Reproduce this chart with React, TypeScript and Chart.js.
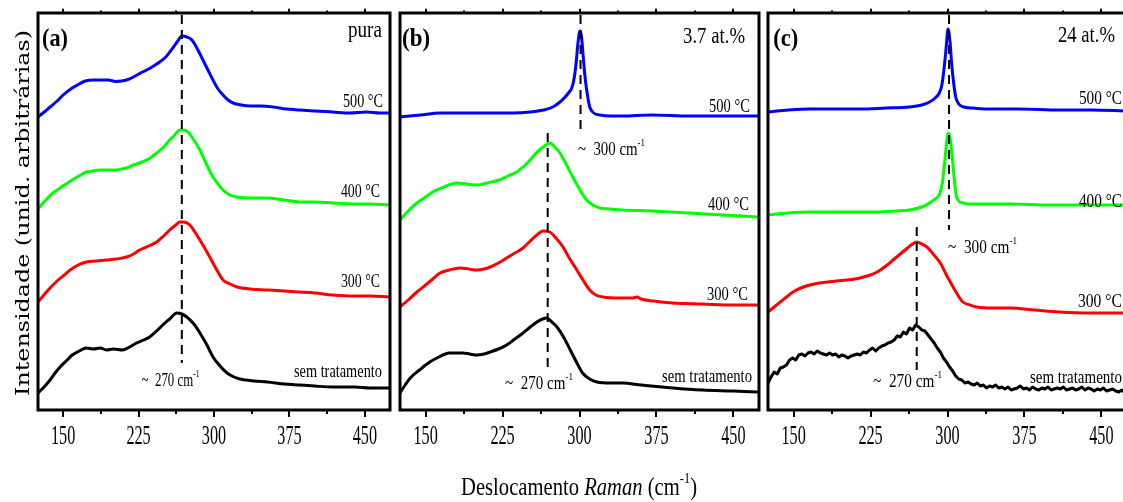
import { useEffect, useRef } from "react";
import { Chart, registerables } from "chart.js";

Chart.register(...registerables);

// Raman shift axis (cm-1)
const shiftMin = 125;
const shiftMax = 475;
const shiftTicks = [150, 225, 300, 375, 450];
const minorShiftTicks = [187.5, 262.5, 337.5, 412.5];

// Intensity axis (arbitrary units, spectra stacked with offsets)
const intensityMin = 0;
const intensityMax = 397;

type Pt = [number, number];

// ---------- (a) pura ----------
const pureAsGrown: Pt[] = [
  [125, 17], [131, 23], [137, 30], [142, 37], [147, 43], [153, 49], [159, 55], [166, 59], [173, 62], [180, 61],
  [187, 62], [193, 60], [200, 61], [209, 60], [216, 63], [223, 67], [230, 70], [236, 73], [243, 79], [249, 85],
  [256, 91], [263, 97], [268, 96], [273, 93], [280, 86], [286, 77], [293, 65], [299, 53], [306, 44], [313, 37],
  [320, 33], [326, 31], [340, 29], [353, 28], [370, 26], [385, 25], [400, 24], [418, 23], [440, 23], [455, 22], [474, 22],
];
const pure300: Pt[] = [
  [125, 108], [130, 114], [137, 122], [145, 130], [150, 134], [157, 140], [165, 145], [173, 148], [183, 149], [193, 150],
  [203, 151], [213, 153], [220, 156], [226, 160], [235, 164], [243, 168], [250, 174], [256, 180], [262, 185], [266, 188],
  [270, 188], [276, 185], [281, 178], [286, 170], [293, 158], [299, 147], [304, 138], [309, 130], [316, 126], [323, 123],
  [336, 121], [353, 120], [370, 119], [385, 118], [400, 117], [418, 115], [440, 114], [455, 114], [474, 113],
];
const pure400: Pt[] = [
  [125, 201], [132, 209], [140, 217], [150, 224], [159, 230], [166, 234], [173, 238], [180, 239], [187, 240], [195, 240],
  [203, 240], [208, 241], [213, 242], [220, 245], [226, 247], [235, 251], [243, 257], [250, 263], [256, 270], [261, 275],
  [266, 280], [270, 280], [274, 278], [280, 270], [286, 260], [292, 247], [299, 233], [304, 226], [309, 220], [316, 215],
  [323, 213], [335, 212], [353, 212], [370, 210], [385, 208], [400, 208], [418, 207], [440, 206], [455, 206], [474, 205],
];
const pure500: Pt[] = [
  [125, 293], [130, 297], [137, 303], [144, 309], [150, 315], [159, 322], [166, 326], [172, 329], [180, 330], [187, 330],
  [195, 330], [202, 328.5], [208, 329], [213, 330], [220, 333], [227, 337], [233, 340], [240, 344], [246, 348], [252, 353],
  [259, 362], [264, 369], [268, 374], [273, 373], [278, 370], [283, 362], [289, 350], [294, 340], [299, 330], [304, 321],
  [309, 315], [314, 310], [319, 307], [327, 305], [336, 304], [347, 304], [359, 303], [372, 301], [385, 300], [400, 299],
  [418, 298], [435, 297], [452, 298], [465, 297], [474, 297],
];
const pureMarkers: Pt[][] = [[[268, 395], [268, 47]]];

// ---------- (b) 3.7 at.% ----------
const lowAsGrown: Pt[] = [
  [125, 17], [130, 25], [135, 32], [144, 40], [154, 48], [163, 53], [173, 57], [180, 57], [186, 57], [193, 56],
  [200, 55], [207, 56], [213, 58], [221, 61], [229, 65], [237, 71], [245, 77], [252, 83], [258.5, 88], [264, 91],
  [268, 92], [273, 88], [278, 83], [285, 72], [291, 60], [297, 48], [303, 37], [310, 31], [317, 28], [330, 27],
  [342, 27], [360, 25], [391, 22], [420, 20], [450, 19], [474, 18],
];
const low300: Pt[] = [
  [125, 103], [133, 110], [141.5, 118], [150, 125], [157, 131], [164, 137], [173, 140], [183.5, 142], [192, 141], [200, 140],
  [207, 141], [213, 143], [221, 147], [229, 152], [237, 157], [245, 162], [252, 169], [258.5, 175], [264.5, 179], [271, 178],
  [277, 172], [284, 163], [290, 152], [297.5, 140], [304, 129], [310, 120], [316, 115], [323, 113], [340, 112], [352, 112],
  [356, 113], [360, 111], [372, 109], [391, 107], [420, 106], [450, 105], [474, 105],
];
const low400: Pt[] = [
  [125, 190], [133, 199], [141.5, 207], [150, 213], [157, 218], [168, 223], [180.5, 227], [190, 226], [200, 225], [210, 227],
  [222, 230], [230, 234], [239, 238], [245, 243], [252, 250], [256, 255], [261, 260], [266, 264], [271, 267], [276, 263],
  [281, 257], [287, 246], [293.5, 233], [300, 221], [307, 210], [313, 205], [320, 202], [330, 201], [342, 200], [370, 199],
  [407, 197], [440, 195], [474, 193],
];
const low500: Pt[] = [
  [125, 293], [145, 295], [164, 297], [190, 297], [213, 297], [235, 297], [252, 298], [265, 300], [274, 303], [281, 308],
  [286, 313], [290, 318], [292.5, 322], [295, 333], [297, 350], [298.5, 367], [300.5, 379], [302, 373], [303.5, 355], [305, 337],
  [307, 320], [310, 303], [314, 297], [320, 295], [330, 294], [342, 294], [370, 295], [407, 294], [440, 294], [474, 294],
];
const lowMarkers: Pt[][] = [
  [[301, 395], [301, 280]],
  [[269, 277], [269, 40]],
];

// ---------- (c) 24 at.% ----------
const highAsGrown: Pt[] = [
  [125, 27], [128, 33], [131, 38], [134, 36], [137, 42], [140, 43], [143, 45], [146, 50], [149, 52], [152, 50],
  [155, 55], [158, 56], [161, 54], [164, 57], [167, 58], [170, 56], [173, 59], [176, 57], [179, 56], [182, 55],
  [185, 57], [188, 55], [191, 56], [194, 53], [197, 55], [200, 54], [203, 52], [206, 54], [209, 55], [212, 56],
  [215, 55], [218, 58], [221, 57], [224, 60], [227, 62], [230, 59], [233, 62], [236, 64], [239, 65], [242, 67],
  [245, 68], [248, 70], [251, 74], [254, 73], [257, 78], [260, 76], [263, 82], [266, 80], [269, 85], [272, 83],
  [275, 80], [278, 79], [281, 75], [284, 71], [287, 67], [290, 62], [293, 58], [296, 52], [299, 48], [302, 43],
  [305, 39], [308, 34], [311, 31], [314, 30], [317, 27], [320, 28], [323, 26], [326, 25], [329, 27], [332, 24],
  [335, 25], [338, 22], [341, 24], [344, 23], [347, 25], [350, 22], [353, 23], [356, 21], [359, 23], [362, 20],
  [365, 21], [368, 22], [371, 24], [374, 21], [377, 22], [380, 20], [383, 23], [386, 21], [389, 20], [392, 22],
  [395, 21], [398, 23], [401, 20], [404, 21], [407, 22], [410, 21], [413, 23], [416, 20], [419, 21], [422, 22],
  [425, 20], [428, 21], [431, 23], [434, 20], [437, 22], [440, 21], [443, 19], [446, 21], [449, 20], [452, 22],
  [455, 19], [458, 20], [461, 21], [464, 19], [467, 18], [470, 20], [473, 17], [475, 18],
];
const high300: Pt[] = [
  [125, 98], [131, 103], [137, 108], [143, 113], [149.5, 118], [157, 122], [166, 125], [175, 127], [183, 128], [192, 129],
  [202, 130], [210, 131], [218, 133], [225, 135], [231.5, 138], [240, 144], [247, 150], [254, 156], [261, 162], [266, 166],
  [270, 168], [275, 166], [280, 163], [286, 156], [293, 147], [299, 135], [305.5, 123], [310, 115], [315, 108], [322, 105],
  [328.5, 103], [345, 102], [361, 102], [385, 100], [409, 98], [440, 97], [475, 97],
];
const high400: Pt[] = [
  [125, 195], [145, 197], [166, 198], [200, 198], [231, 198], [250, 199], [263, 200], [275, 203], [282.5, 207], [288, 211],
  [292, 215], [295, 227], [297, 245], [299, 265], [300.5, 277], [302.5, 272], [304.5, 255], [306.5, 232], [308.5, 215], [311, 209],
  [315, 207], [322, 206], [340, 206], [361, 206], [400, 205], [440, 205], [475, 205],
];
const high500: Pt[] = [
  [125, 298], [145, 300], [166, 301], [190, 301], [214.5, 301], [240, 302], [263, 303], [275, 305], [282.5, 308], [288, 312],
  [292, 317], [294.5, 325], [296.5, 340], [298.5, 360], [300.5, 381], [302.5, 368], [304, 347], [306, 327], [308, 313], [311, 306],
  [316, 303], [325, 302], [344, 301], [370, 301], [409, 300], [440, 300], [475, 299],
];
const highMarkers: Pt[][] = [
  [[301.5, 395], [301.5, 180]],
  [[270, 183], [270, 40]],
];

const colAsGrown = "#000000";
const col300 = "#ff0000";
const col400 = "#00ff00";
const col500 = "#0000ff";

const SERIF = '"Liberation Serif", "Times New Roman", serif';
const CANVAS_W = 1135;
const CANVAS_H = 502;
const PLOT_TOP = 13;
const PLOT_BOTTOM = 410;

type Seg = { t: string; sup?: boolean; italic?: boolean; bold?: boolean };
type Label = {
  segs: Seg[];
  x: number; // cm-1
  y: number; // intensity units (baseline)
  align: "left" | "right" | "center";
  size: number;
  width: number;
};

const deg = (t: string): Seg[] => [{ t: `${t} °C` }];
const wavenumber = (t: string): Seg[] => [{ t: `~  ${t} cm` }, { t: "-1", sup: true }];

function drawRich(
  ctx: CanvasRenderingContext2D,
  segs: Seg[],
  x: number,
  y: number,
  align: "left" | "right" | "center",
  size: number,
  opts: { width?: number; sx?: number; family?: string }
) {
  const family = opts.family ?? SERIF;
  let total = 0;
  const parts = segs.map((s) => {
    const fs = s.sup ? size * 0.6 : size;
    const font = `${s.italic ? "italic " : ""}${s.bold ? "bold " : ""}${fs}px ${family}`;
    ctx.font = font;
    const w = ctx.measureText(s.t).width;
    total += w;
    return { ...s, font, w };
  });
  const sx = opts.width ? opts.width / total : opts.sx ?? 1;
  const drawW = total * sx;
  const startX = align === "left" ? x : align === "right" ? x - drawW : x - drawW / 2;
  ctx.save();
  ctx.translate(startX, y);
  ctx.scale(sx, 1);
  ctx.fillStyle = "#000";
  ctx.textAlign = "left";
  ctx.textBaseline = "alphabetic";
  let cx = 0;
  for (const p of parts) {
    ctx.font = p.font;
    ctx.fillText(p.t, cx, p.sup ? -size * 0.45 : 0);
    cx += p.w;
  }
  ctx.restore();
}

type PanelDef = {
  left: number;
  right: number;
  series: { data: Pt[]; color: string; jagged?: boolean }[];
  markers: Pt[][];
  labels: Label[];
  yTitle?: boolean;
  xTitle?: boolean;
};

const panels: PanelDef[] = [
  {
    left: 38,
    right: 390,
    series: [
      { data: pureAsGrown, color: colAsGrown },
      { data: pure300, color: col300 },
      { data: pure400, color: col400 },
      { data: pure500, color: col500 },
    ],
    markers: pureMarkers,
    labels: [
      { segs: [{ t: "(a)", bold: true }], x: 129, y: 364, align: "left", size: 26, width: 26 },
      { segs: [{ t: "pura" }], x: 467, y: 373, align: "right", size: 23, width: 34 },
      { segs: deg("500"), x: 468, y: 303, align: "right", size: 19, width: 40 },
      { segs: deg("400"), x: 465, y: 213, align: "right", size: 19, width: 39 },
      { segs: deg("300"), x: 465, y: 123, align: "right", size: 19, width: 39 },
      { segs: [{ t: "sem tratamento" }], x: 467, y: 33, align: "right", size: 19, width: 88 },
      { segs: wavenumber("270"), x: 228, y: 24, align: "left", size: 19, width: 58 },
    ],
    yTitle: true,
  },
  {
    left: 400,
    right: 759,
    series: [
      { data: lowAsGrown, color: colAsGrown },
      { data: low300, color: col300 },
      { data: low400, color: col400 },
      { data: low500, color: col500 },
    ],
    markers: lowMarkers,
    labels: [
      { segs: [{ t: "(b)", bold: true }], x: 127, y: 364, align: "left", size: 26, width: 28 },
      { segs: [{ t: "3.7 at.%" }], x: 461.4, y: 367, align: "right", size: 23, width: 62 },
      { segs: deg("500"), x: 466.2, y: 298, align: "right", size: 19, width: 41 },
      { segs: wavenumber("300"), x: 298.5, y: 255, align: "left", size: 19, width: 67 },
      { segs: deg("400"), x: 465.3, y: 200, align: "right", size: 19, width: 41 },
      { segs: deg("300"), x: 464.3, y: 110, align: "right", size: 19, width: 41 },
      { segs: [{ t: "sem tratamento" }], x: 468.2, y: 28, align: "right", size: 19, width: 90 },
      { segs: wavenumber("270"), x: 227.4, y: 21, align: "left", size: 19, width: 68 },
    ],
    xTitle: true,
  },
  {
    left: 768,
    right: 1127,
    series: [
      { data: highAsGrown, color: colAsGrown, jagged: true },
      { data: high300, color: col300 },
      { data: high400, color: col400 },
      { data: high500, color: col500 },
    ],
    markers: highMarkers,
    labels: [
      { segs: [{ t: "(c)", bold: true }], x: 130, y: 364, align: "left", size: 26, width: 25 },
      { segs: [{ t: "24 at.%" }], x: 463.3, y: 368, align: "right", size: 23, width: 57 },
      { segs: deg("500"), x: 470.1, y: 306, align: "right", size: 19, width: 43 },
      { segs: deg("400"), x: 470.1, y: 203, align: "right", size: 19, width: 43 },
      { segs: wavenumber("300"), x: 300.5, y: 157, align: "left", size: 19, width: 69 },
      { segs: deg("300"), x: 470.1, y: 103, align: "right", size: 19, width: 44 },
      { segs: [{ t: "sem tratamento" }], x: 470.1, y: 27, align: "right", size: 19, width: 92 },
      { segs: wavenumber("270"), x: 227.4, y: 23, align: "left", size: 19, width: 69 },
    ],
  },
];

function makeDecorations(panel: PanelDef) {
  return {
    id: "panelDecorations",
    afterDatasetsDraw(chart: any) {
      const ctx: CanvasRenderingContext2D = chart.ctx;
      const area = chart.chartArea;
      const xs = chart.scales.x;
      const ys = chart.scales.y;
      ctx.save();

      // frame
      ctx.strokeStyle = "#000";
      ctx.lineWidth = 3;
      ctx.strokeRect(area.left, area.top, area.right - area.left, area.bottom - area.top);

      // ticks (outward, top and bottom)
      ctx.lineWidth = 2;
      const tick = (v: number, len: number) => {
        const px = Math.round(xs.getPixelForValue(v));
        ctx.beginPath();
        ctx.moveTo(px, area.bottom);
        ctx.lineTo(px, area.bottom + len);
        ctx.moveTo(px, area.top);
        ctx.lineTo(px, area.top - len * 0.6);
        ctx.stroke();
      };
      shiftTicks.forEach((v) => tick(v, 7));
      minorShiftTicks.forEach((v) => tick(v, 4));

      // tick labels
      shiftTicks.forEach((v) => {
        drawRich(ctx, [{ t: String(v) }], xs.getPixelForValue(v), 444, "center", 27, { sx: 0.6 });
      });

      // annotations
      panel.labels.forEach((l) => {
        drawRich(ctx, l.segs, xs.getPixelForValue(l.x), ys.getPixelForValue(l.y), l.align, l.size, {
          width: l.width,
        });
      });

      if (panel.yTitle) {
        ctx.save();
        ctx.translate(29, 213);
        ctx.rotate(-Math.PI / 2);
        drawRich(ctx, [{ t: "Intensidade (unid. arbitrárias)" }], 0, 0, "center", 18, {
          width: 366,
          family: '"DejaVu Serif", serif',
        });
        ctx.restore();
      }

      if (panel.xTitle) {
        drawRich(
          ctx,
          [{ t: "Deslocamento " }, { t: "Raman", italic: true }, { t: " (cm" }, { t: "-1", sup: true }, { t: ")" }],
          461,
          495,
          "left",
          26,
          { width: 236 }
        );
      }
      ctx.restore();
    },
  };
}

function Panel({ panel }: { panel: PanelDef }) {
  const ref = useRef<HTMLCanvasElement | null>(null);
  useEffect(() => {
    if (!ref.current) return;
    const datasets: any[] = [];
    panel.markers.forEach((m) => {
      datasets.push({
        data: m.map(([x, y]) => ({ x, y })),
        borderColor: "#000",
        borderWidth: 2,
        borderDash: [9, 6],
        pointRadius: 0,
        fill: false,
        tension: 0,
      });
    });
    panel.series.forEach((s) => {
      datasets.push({
        data: s.data.map(([x, y]) => ({ x, y })),
        borderColor: s.color,
        borderWidth: 3,
        pointRadius: 0,
        fill: false,
        ...(s.jagged ? { tension: 0 } : { cubicInterpolationMode: "monotone" }),
        borderJoinStyle: "round",
      });
    });
    const chart = new Chart(ref.current, {
      type: "line",
      data: { datasets },
      options: {
        responsive: false,
        animation: false,
        events: [],
        layout: {
          padding: {
            left: panel.left,
            right: CANVAS_W - panel.right,
            top: PLOT_TOP,
            bottom: CANVAS_H - PLOT_BOTTOM,
          },
        },
        scales: {
          x: { type: "linear", min: shiftMin, max: shiftMax, display: false },
          y: { type: "linear", min: intensityMin, max: intensityMax, display: false },
        },
        plugins: { legend: { display: false }, tooltip: { enabled: false } },
      },
      plugins: [makeDecorations(panel)],
    });
    return () => chart.destroy();
  }, [panel]);
  return (
    <canvas
      ref={ref}
      width={CANVAS_W}
      height={CANVAS_H}
      style={{ position: "absolute", left: 0, top: 0, width: CANVAS_W, height: CANVAS_H }}
    />
  );
}

export default function App() {
  return (
    <div
      style={{
        position: "fixed",
        left: 0,
        top: 0,
        width: 1123,
        height: 502,
        overflow: "hidden",
        background: "#fff",
      }}
    >
      {panels.map((p, i) => (
        <Panel key={i} panel={p} />
      ))}
    </div>
  );
}
